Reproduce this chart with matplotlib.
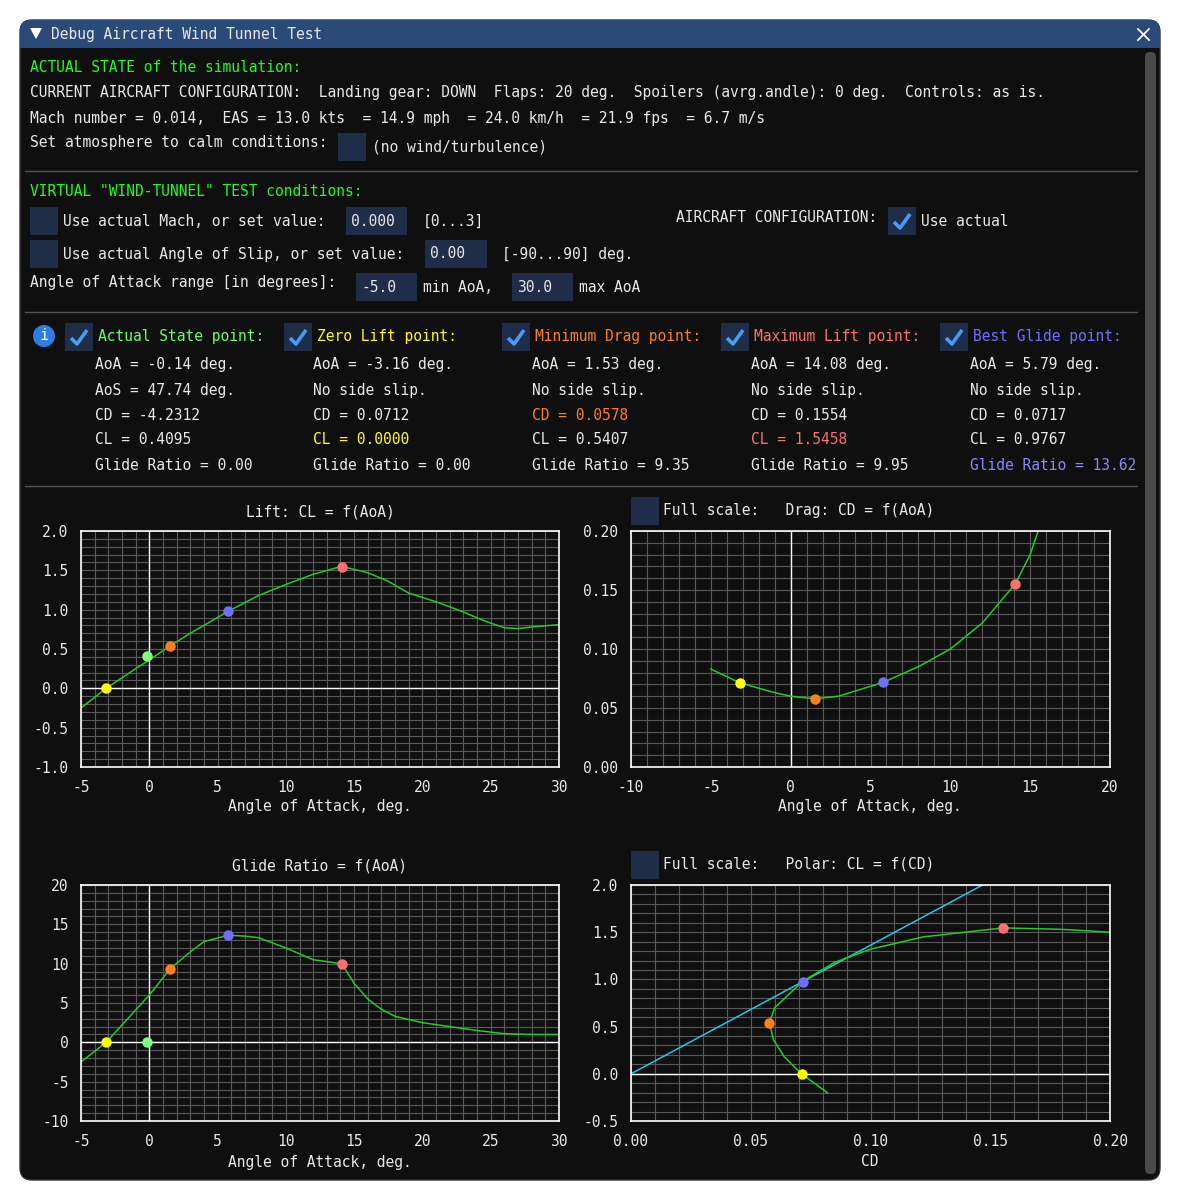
import matplotlib
matplotlib.use("Agg")
import matplotlib.pyplot as plt
from matplotlib.patches import FancyBboxPatch, Rectangle, Circle, Polygon
import numpy as np

# ---------------- data ----------------
lift_aoa = [-5, -3.16, -1, 0, 1.53, 3, 5.79, 8, 10, 12, 14.08, 16, 17.5, 19, 21, 23, 24.5, 26, 27, 28, 30]
lift_cl = [-0.25, 0.0, 0.25, 0.36, 0.54, 0.70, 0.98, 1.18, 1.32, 1.45, 1.55, 1.47, 1.36, 1.21, 1.10, 0.97, 0.86, 0.77, 0.76, 0.78, 0.81]

drag_aoa = [-5, -3.16, -1, 0, 1.53, 3, 5.79, 8, 10, 12, 14.08, 15, 15.5]
drag_cd = [0.083, 0.0712, 0.063, 0.060, 0.0578, 0.060, 0.0717, 0.085, 0.100, 0.122, 0.1554, 0.180, 0.200]

glide_aoa = [-5, -3.16, 0, 1.53, 3, 4, 5.79, 7, 8, 10, 12, 14.08, 15, 16, 17, 18, 20, 22, 24, 26, 28, 30]
glide_gr = [-2.5, 0.0, 6.0, 9.35, 11.5, 12.8, 13.62, 13.5, 13.3, 12.0, 10.5, 10.0, 7.5, 5.5, 4.2, 3.3, 2.5, 2.0, 1.5, 1.1, 1.0, 1.0]

polar_cd = [0.082, 0.0712, 0.064, 0.0595, 0.0578, 0.060, 0.0717, 0.085, 0.100, 0.122, 0.1554, 0.180, 0.200]
polar_cl = [-0.20, 0.0, 0.18, 0.36, 0.54, 0.70, 0.98, 1.18, 1.32, 1.45, 1.5458, 1.53, 1.50]

pt_names = ["Actual State", "Zero Lift", "Minimum Drag", "Maximum Lift", "Best Glide"]
pt_colors = ["#80ff80", "#ffff00", "#ff7f1a", "#ff7070", "#7070ff"]
pt_aoa = [-0.14, -3.16, 1.53, 14.08, 5.79]
pt_cd = [-4.2312, 0.0712, 0.0578, 0.1554, 0.0717]
pt_cl = [0.4095, 0.0, 0.5407, 1.5458, 0.9767]
pt_gr = [0.0, 0.0, 9.35, 9.95, 13.62]

W, H = 1180, 1201
fig = plt.figure(figsize=(W / 100, H / 100), dpi=100)
fig.patch.set_facecolor("white")
bg = fig.add_axes([0, 0, 1, 1])
bg.set_xlim(0, W); bg.set_ylim(H, 0); bg.axis("off")

MONO = "DejaVu Sans Mono"
FS = 10.55
WHITE = "#e8e8e8"

def T(x, y, s, c=WHITE, ha="left", fs=FS):
    bg.text(x, y, s, color=c, ha=ha, va="center", fontsize=fs, family=MONO)

bg.add_patch(FancyBboxPatch((20, 20), 1140, 1160, boxstyle="round,pad=0,rounding_size=12",
                            fc="#0f0f0f", ec="#333333", lw=1))
bg.add_patch(FancyBboxPatch((20, 20), 1140, 28, boxstyle="round,pad=0,rounding_size=10",
                            fc="#2a4a7a", ec="none"))
bg.add_patch(Rectangle((20, 36), 1140, 12, fc="#2a4a7a", ec="none"))
bg.add_patch(Polygon([[30, 28], [42, 28], [36, 39]], fc="white", ec="none"))
T(51, 34, "Debug Aircraft Wind Tunnel Test")
bg.plot([1138, 1149], [29, 40], color="white", lw=1.3)
bg.plot([1138, 1149], [40, 29], color="white", lw=1.3)
bg.add_patch(FancyBboxPatch((1145, 52), 11, 1122, boxstyle="round,pad=0,rounding_size=5",
                            fc="#4a4a4a", ec="none"))

GREEN = "#1aff1a"
BOXC = "#1f2d48"
CHK = "#4a9af5"

def box(x0, y0, w=28, h=28, checked=False):
    bg.add_patch(Rectangle((x0, y0), w, h, fc=BOXC, ec="none"))
    if checked:
        bg.plot([x0 + 6, x0 + 12, x0 + 22], [y0 + 15, y0 + 21, y0 + 7], color=CHK, lw=2.6,
                solid_capstyle="butt")

def field(x0, y0, w, s):
    bg.add_patch(Rectangle((x0, y0), w, 28, fc=BOXC, ec="none"))
    T(x0 + 5, y0 + 14, s)

T(30, 68, "ACTUAL STATE of the simulation:", GREEN)
T(30, 93, "CURRENT AIRCRAFT CONFIGURATION:  Landing gear: DOWN  Flaps: 20 deg.  Spoilers (avrg.andle): 0 deg.  Controls: as is.")
T(30, 118, "Mach number = 0.014,  EAS = 13.0 kts  = 14.9 mph  = 24.0 km/h  = 21.9 fps  = 6.7 m/s")
T(30, 143, "Set atmosphere to calm conditions:")
box(338, 133)
T(372, 147, "(no wind/turbulence)")
bg.plot([25, 1137], [171, 171], color="#555555", lw=1)

T(30, 192, "VIRTUAL \"WIND-TUNNEL\" TEST conditions:", GREEN)
box(30, 207); T(63, 221, "Use actual Mach, or set value:")
field(346, 207, 61, "0.000"); T(423, 221, "[0...3]")
T(676, 217, "AIRCRAFT CONFIGURATION:"); box(888, 207, checked=True); T(921, 221, "Use actual")
box(30, 240); T(63, 254, "Use actual Angle of Slip, or set value:")
field(425, 240, 62, "0.00"); T(502, 254, "[-90...90] deg.")
T(30, 283, "Angle of Attack range [in degrees]:")
field(356, 273, 61, "-5.0"); T(423, 287, "min AoA,")
field(512, 273, 61, "30.0"); T(579, 287, "max AoA")
bg.plot([25, 1137], [312, 312], color="#555555", lw=1)

bg.add_patch(Circle((44, 336), 11, fc="#2f7de1", ec="none"))
T(44, 336, "i", "white", ha="center", fs=11)
hdr_x = [65, 284, 502, 721, 940]
col_x = [95, 313, 532, 751, 970]
for i in range(5):
    box(hdr_x[i], 323, checked=True)
    T(hdr_x[i] + 33, 337, pt_names[i] + " point:", pt_colors[i] if i else "#66ff66")
    x = col_x[i]
    T(x, 365, "AoA = %.2f deg." % pt_aoa[i])
    T(x, 390, "AoS = 47.74 deg." if i == 0 else "No side slip.")
    T(x, 415, "CD = %.4f" % pt_cd[i], pt_colors[i] if i == 2 else WHITE)
    T(x, 440, "CL = %.4f" % pt_cl[i], pt_colors[i] if i in (1, 3) else WHITE)
    T(x, 465, "Glide Ratio = %.2f" % pt_gr[i], "#8888ff" if i == 4 else WHITE)
bg.plot([25, 1137], [486, 486], color="#555555", lw=1)

T(320, 512, "Lift: CL = f(AoA)", ha="center")
box(631, 497); T(663, 510, "Full scale:   Drag: CD = f(AoA)")
T(320, 866, "Glide Ratio = f(AoA)", ha="center")
box(631, 851); T(663, 864, "Full scale:   Polar: CL = f(CD)")
T(320, 807, "Angle of Attack, deg.", ha="center")
T(870, 807, "Angle of Attack, deg.", ha="center")
T(320, 1162, "Angle of Attack, deg.", ha="center")
T(870, 1162, "CD", ha="center")

def mkax(x0, y0, x1, y1, xl, yl, xt, yt, xm, ym, xfmt, yfmt):
    ax = fig.add_axes([x0 / W, 1 - y1 / H, (x1 - x0) / W, (y1 - y0) / H])
    ax.set_facecolor("#0f0f0f")
    ax.set_xlim(*xl); ax.set_ylim(*yl)
    ax.set_xticks(xm, minor=True); ax.set_yticks(ym, minor=True)
    ax.set_xticks(xt); ax.set_yticks(yt)
    ax.set_xticklabels([xfmt % v for v in xt]); ax.set_yticklabels([yfmt % v for v in yt])
    ax.grid(True, which="both", color="#5a5a5a", lw=0.8)
    ax.tick_params(which="both", length=0, colors=WHITE, labelsize=FS, pad=9)
    for lab in ax.get_xticklabels() + ax.get_yticklabels():
        lab.set_family(MONO)
    for s in ax.spines.values():
        s.set_color("white"); s.set_linewidth(1.2)
    ax.set_axisbelow(True)
    return ax

aoa_t = list(range(-5, 31, 5))
ax1 = mkax(81, 531, 559, 767, (-5, 30), (-1, 2), aoa_t, [-1, -0.5, 0, 0.5, 1, 1.5, 2],
           np.arange(-5, 31, 1), np.arange(-1, 2.01, 0.1), "%d", "%.1f")
ax1.axvline(0, color="white", lw=1); ax1.axhline(0, color="white", lw=1)
ax1.plot(lift_aoa, lift_cl, color="#22cc22", lw=1.1)
for i in range(5):
    ax1.plot(pt_aoa[i], pt_cl[i], "o", color=pt_colors[i], ms=6.5)

ax2 = mkax(631, 531, 1110, 767, (-10, 20), (0, 0.2), list(range(-10, 21, 5)), [0, 0.05, 0.1, 0.15, 0.2],
           np.arange(-10, 21, 1), np.arange(0, 0.201, 0.01), "%d", "%.2f")
ax2.axvline(0, color="white", lw=1)
ax2.plot(drag_aoa, drag_cd, color="#22cc22", lw=1.1, clip_on=True)
for i in range(1, 5):
    ax2.plot(pt_aoa[i], pt_cd[i], "o", color=pt_colors[i], ms=6.5)

ax3 = mkax(81, 885, 559, 1121, (-5, 30), (-10, 20), aoa_t, [-10, -5, 0, 5, 10, 15, 20],
           np.arange(-5, 31, 1), np.arange(-10, 21, 1), "%d", "%d")
ax3.axvline(0, color="white", lw=1); ax3.axhline(0, color="white", lw=1)
ax3.plot(glide_aoa, glide_gr, color="#22cc22", lw=1.1)
for i in range(5):
    ax3.plot(pt_aoa[i], pt_gr[i], "o", color=pt_colors[i], ms=6.5)

ax4 = mkax(631, 885, 1110, 1121, (0, 0.2), (-0.5, 2.0), [0, 0.05, 0.1, 0.15, 0.2], [-0.5, 0, 0.5, 1, 1.5, 2],
           np.arange(0, 0.201, 0.01), np.arange(-0.5, 2.01, 0.1), "%.2f", "%.1f")
ax4.axhline(0, color="white", lw=1)
ax4.plot([0, 0.2], [0, 0.2 * pt_cl[4] / pt_cd[4]], color="#22c8e0", lw=1.1)
ax4.plot(polar_cd, polar_cl, color="#22cc22", lw=1.1)
for i in range(1, 5):
    ax4.plot(pt_cd[i], pt_cl[i], "o", color=pt_colors[i], ms=6.5)

fig.savefig("out.png", dpi=100, facecolor="white")
